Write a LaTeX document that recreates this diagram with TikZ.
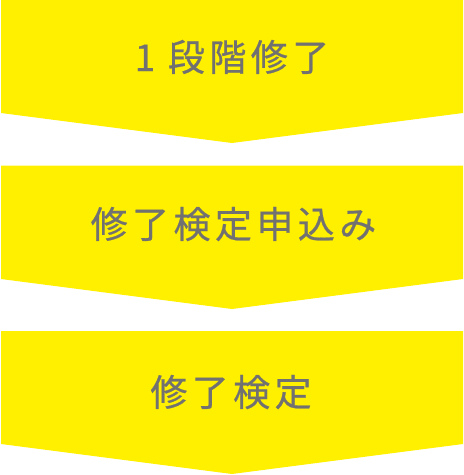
\documentclass[tikz,border=0pt]{standalone}
\usepackage{fontspec}
\usepackage{tikz}
\usetikzlibrary{positioning}
\newfontfamily\jpfont[LetterSpace=12,FakeBold=0.6]{Noto Sans CJK JP}
\definecolor{stepyellow}{HTML}{FFF000}
\definecolor{stepgray}{HTML}{727171}

\begin{document}
\begin{tikzpicture}[x=1pt,y=-1pt, steptext/.style={anchor=base,inner sep=0pt,text=stepgray,font=\jpfont\fontsize{37}{37}\selectfont}]
              \useasboundingbox (0,0) rectangle (464,475);
              \fill[stepyellow] (1,0) -- (463,0) -- (463,113) -- (232,143) -- (1,113) -- cycle;
              \fill[stepyellow] (1,165.5) -- (463,165.5) -- (463,279) -- (232,309) -- (1,279) -- cycle;
              \fill[stepyellow] (1,331) -- (463,331) -- (463,444) -- (232,474) -- (1,444) -- cycle;

              \node[steptext] (s1) at (232,71) {1 段階修了};
              \node[steptext] (s2) at (233.5,238) {修了検定申込み};
              \node[steptext] (s3) at (231,406) {修了検定};
            \end{tikzpicture}
\end{document}
